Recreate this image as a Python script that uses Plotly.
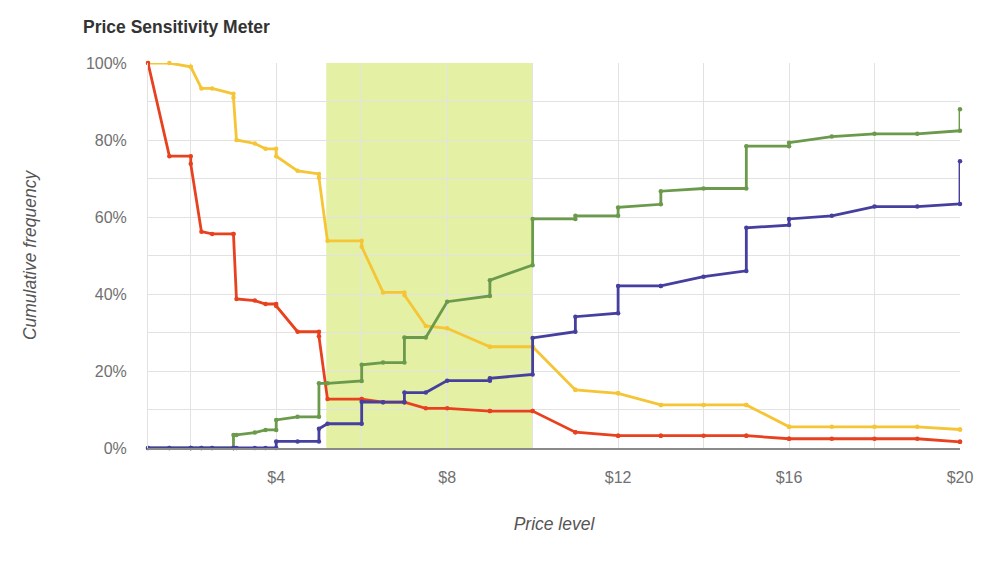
import plotly.graph_objects as go

# Price points (duplicates mark the vertical steps)
price = [1, 1.5, 2, 2, 2.25, 2.5, 3, 3, 3.07, 3.5, 3.75, 4, 4, 4.5, 5, 5, 5.2,
         6, 6, 6.5, 7, 7, 7.5, 8, 9, 9, 10, 10, 11, 11, 12, 12, 13, 13, 14,
         15, 15, 16, 16, 17, 18, 19, 20, 20]

too_cheap = [100, 75.8, 75.8, 73.8, 56.2, 55.6, 55.6, 55.6, 38.7, 38.3, 37.4, 37.4, 36.9,
             30.2, 30.2, 29.0, 12.7, 12.7, 12.7, 11.9, 11.9, 11.9, 10.3, 10.3, 9.6, 9.6,
             9.6, 9.6, 4.1, 4.1, 3.2, 3.2, 3.2, 3.2, 3.2, 3.2, 3.2, 2.4, 2.4, 2.4, 2.4,
             2.4, 1.6, 1.6]

not_expensive = [100, 100, 99.0, 99.0, 93.4, 93.4, 92.0, 91.0, 80.0, 79.1, 77.7, 77.7, 75.8,
                 72.0, 71.2, 70.2, 53.8, 53.8, 52.3, 40.4, 40.4, 39.7, 31.7, 31.1, 26.3,
                 26.3, 26.3, 26.3, 15.1, 15.1, 14.2, 14.2, 11.2, 11.2, 11.2, 11.2, 11.2,
                 5.5, 5.5, 5.5, 5.5, 5.5, 4.8, 4.8]

not_cheap = [0, 0, 0, 0, 0, 0, 0, 3.4, 3.4, 4.0, 4.7, 4.7, 7.3, 8.1, 8.1, 16.8, 16.8,
             17.4, 21.6, 22.2, 22.2, 28.7, 28.7, 38.0, 39.5, 43.6, 47.5, 59.5, 59.5, 60.3,
             60.3, 62.5, 63.3, 66.7, 67.4, 67.4, 78.4, 78.4, 79.3, 80.9, 81.6, 81.6, 82.4,
             88.0]

too_expensive = [0, 0, 0, 0, 0, 0, 0, 0, 0, 0, 0, 0, 1.7, 1.7, 1.7, 5.0, 6.3, 6.3, 12.0,
                 11.9, 11.9, 14.4, 14.4, 17.5, 17.5, 18.1, 19.1, 28.6, 30.2, 34.1, 35.0,
                 42.1, 42.1, 42.1, 44.5, 46.0, 57.2, 57.9, 59.5, 60.3, 62.7, 62.7, 63.4,
                 74.5]

# Acceptable price range (shaded band)
range_bounds = [5.17, 10]

series = [
    ("Not expensive", not_expensive, "#f5c535"),
    ("Too cheap", too_cheap, "#e8411f"),
    ("Not cheap", not_cheap, "#6b9a4c"),
    ("Too expensive", too_expensive, "#453f9f"),
]

fig = go.Figure()
for name, vals, color in series:
    fig.add_trace(go.Scatter(
        x=price, y=[v / 100 for v in vals], name=name, mode="lines+markers",
        line=dict(color=color, width=2.8), marker=dict(size=4.5, color=color),
        cliponaxis=False,
    ))

fig.add_shape(type="rect", xref="x", yref="y domain", x0=range_bounds[0], x1=range_bounds[1],
              y0=0, y1=1, fillcolor="#e4f1a4", line=dict(width=0), layer="below")

fig.update_layout(
    width=1000, height=563,
    margin=dict(l=140, r=48, t=55, b=123),
    paper_bgcolor="white", plot_bgcolor="white",
    showlegend=False,
    font=dict(family="Liberation Sans, Arial, sans-serif", color="#707070", size=16),
    title=dict(text="<b>Price Sensitivity Meter</b>", x=0.075, xanchor="left",
               xref="container", yref="container", y=1 - 19 / 563, yanchor="middle",
               font=dict(size=17.5, color="#333333")),
)

fig.update_xaxes(
    range=[1, 20], tick0=0, dtick=4, tickprefix="$",
    showgrid=True, gridcolor="#e2e2e2", gridwidth=1,
    minor=dict(tick0=0, dtick=2, showgrid=True, gridcolor="#e2e2e2"),
    showline=True, linecolor="#8a8a8a", linewidth=1.5,
    ticks="outside", ticklen=14, tickcolor="rgba(0,0,0,0)",
    zeroline=False,
    title=dict(text="<i>Price level</i>", font=dict(size=17.5, color="#555555"), standoff=33),
)
fig.update_yaxes(
    range=[0, 1], dtick=0.2, tickformat=".0%",
    showgrid=True, gridcolor="#e2e2e2", gridwidth=1,
    minor=dict(dtick=0.1, showgrid=True, gridcolor="#e2e2e2"),
    showline=True, linecolor="#e2e2e2",
    ticks="outside", ticklen=17, tickcolor="rgba(0,0,0,0)",
    zeroline=False,
    title=dict(text="<i>Cumulative frequency</i>", font=dict(size=17.5, color="#555555"), standoff=44),
)

fig.write_html("out.html")
